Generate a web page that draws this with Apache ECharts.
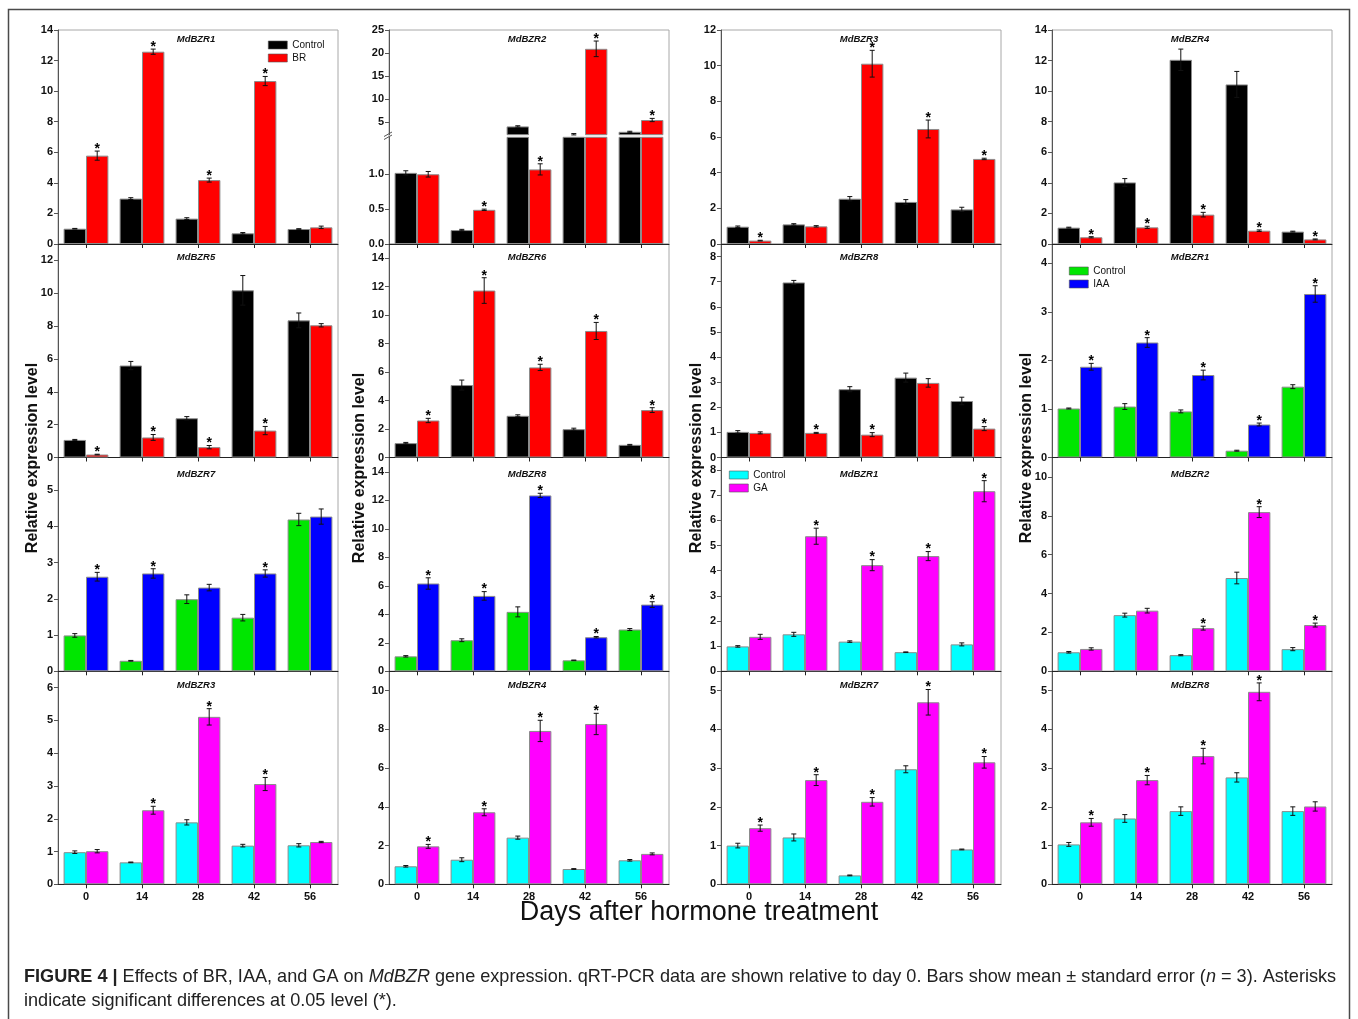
<!DOCTYPE html>
<html>
<head>
<meta charset="utf-8">
<script src="https://cdn.jsdelivr.net/npm/echarts@6/dist/echarts.min.js"></script>
<style>
html,body{margin:0;padding:0;background:#fff;}
#chart{width:1358px;height:1019px;}
</style>
</head>
<body>
<div id="chart"></div>
<script>
// ---------------- DATA ----------------
const days = ['0', '14', '28', '42', '56'];

// BR treatment
const BR_MdBZR1_control   = [1.00, 2.97, 1.66, 0.70, 0.98];
const BR_MdBZR1_controlSE = [0.02, 0.06, 0.06, 0.05, 0.02];
const BR_MdBZR1_treated   = [5.78, 12.58, 4.18, 10.66, 1.09];
const BR_MdBZR1_treatedSE = [0.30, 0.17, 0.13, 0.30, 0.08];
const BR_MdBZR1_sig       = [1, 1, 1, 1, 0];

const BR_MdBZR2_control   = [1.02, 0.20, 4.00, 2.30, 2.83];
const BR_MdBZR2_controlSE = [0.03, 0.01, 0.15, 0.15, 0.12];
const BR_MdBZR2_treated   = [1.00, 0.49, 1.07, 20.9, 5.40];
const BR_MdBZR2_treatedSE = [0.04, 0.01, 0.08, 1.70, 0.35];
const BR_MdBZR2_sig       = [0, 1, 1, 1, 1];
const BR_MdBZR2_upperTicks = [5, 10, 15, 20, 25];
const BR_MdBZR2_lowerTicks = [0, 0.5, 1.0];

const BR_MdBZR3_control   = [0.97, 1.10, 2.54, 2.36, 1.94];
const BR_MdBZR3_controlSE = [0.04, 0.04, 0.12, 0.13, 0.12];
const BR_MdBZR3_treated   = [0.19, 0.99, 10.11, 6.45, 4.77];
const BR_MdBZR3_treatedSE = [0.02, 0.04, 0.75, 0.50, 0.04];
const BR_MdBZR3_sig       = [1, 0, 1, 1, 1];

const BR_MdBZR4_control   = [1.07, 4.03, 12.05, 10.44, 0.81];
const BR_MdBZR4_controlSE = [0.03, 0.25, 0.70, 0.85, 0.03];
const BR_MdBZR4_treated   = [0.44, 1.09, 1.92, 0.87, 0.30];
const BR_MdBZR4_treatedSE = [0.04, 0.07, 0.15, 0.05, 0.03];
const BR_MdBZR4_sig       = [1, 1, 1, 1, 1];

const BR_MdBZR5_control   = [1.07, 5.60, 2.39, 10.18, 8.35];
const BR_MdBZR5_controlSE = [0.03, 0.25, 0.10, 0.90, 0.45];
const BR_MdBZR5_treated   = [0.18, 1.22, 0.63, 1.64, 8.05];
const BR_MdBZR5_treatedSE = [0.02, 0.18, 0.10, 0.25, 0.10];
const BR_MdBZR5_sig       = [1, 1, 1, 1, 0];

const BR_MdBZR6_control   = [1.01, 5.09, 2.93, 1.99, 0.89];
const BR_MdBZR6_controlSE = [0.05, 0.35, 0.07, 0.07, 0.03];
const BR_MdBZR6_treated   = [2.60, 11.73, 6.33, 8.89, 3.33];
const BR_MdBZR6_treatedSE = [0.15, 0.90, 0.22, 0.60, 0.17];
const BR_MdBZR6_sig       = [1, 1, 1, 1, 1];

const BR_MdBZR8_control   = [1.02, 6.97, 2.72, 3.18, 2.25];
const BR_MdBZR8_controlSE = [0.05, 0.08, 0.10, 0.18, 0.15];
const BR_MdBZR8_treated   = [0.98, 0.98, 0.91, 2.97, 1.15];
const BR_MdBZR8_treatedSE = [0.04, 0.02, 0.08, 0.17, 0.08];
const BR_MdBZR8_sig       = [0, 1, 1, 0, 1];

// IAA treatment
const IAA_MdBZR1_control   = [1.01, 1.05, 0.95, 0.14, 1.46];
const IAA_MdBZR1_controlSE = [0.01, 0.06, 0.03, 0.01, 0.04];
const IAA_MdBZR1_treated   = [1.87, 2.37, 1.70, 0.68, 3.37];
const IAA_MdBZR1_treatedSE = [0.07, 0.10, 0.10, 0.03, 0.17];
const IAA_MdBZR1_sig       = [1, 1, 1, 1, 1];

const IAA_MdBZR7_control   = [0.99, 0.29, 1.99, 1.48, 4.19];
const IAA_MdBZR7_controlSE = [0.05, 0.01, 0.12, 0.09, 0.17];
const IAA_MdBZR7_treated   = [2.61, 2.70, 2.31, 2.70, 4.27];
const IAA_MdBZR7_treatedSE = [0.12, 0.13, 0.09, 0.10, 0.21];
const IAA_MdBZR7_sig       = [1, 1, 0, 1, 0];

const IAA_MdBZR8_control   = [1.05, 2.18, 4.17, 0.77, 2.93];
const IAA_MdBZR8_controlSE = [0.05, 0.10, 0.35, 0.02, 0.07];
const IAA_MdBZR8_treated   = [6.16, 5.29, 12.34, 2.39, 4.68];
const IAA_MdBZR8_treatedSE = [0.40, 0.30, 0.15, 0.05, 0.20];
const IAA_MdBZR8_sig       = [1, 1, 1, 1, 1];

// GA treatment
const GA_MdBZR1_control   = [0.99, 1.47, 1.18, 0.76, 1.07];
const GA_MdBZR1_controlSE = [0.03, 0.08, 0.03, 0.01, 0.06];
const GA_MdBZR1_treated   = [1.37, 5.37, 4.22, 4.58, 7.16];
const GA_MdBZR1_treatedSE = [0.10, 0.32, 0.22, 0.18, 0.42];
const GA_MdBZR1_sig       = [0, 1, 1, 1, 1];

const GA_MdBZR2_control   = [0.98, 2.89, 0.83, 4.80, 1.14];
const GA_MdBZR2_controlSE = [0.04, 0.10, 0.03, 0.30, 0.08];
const GA_MdBZR2_treated   = [1.15, 3.12, 2.22, 8.19, 2.38];
const GA_MdBZR2_treatedSE = [0.06, 0.12, 0.10, 0.28, 0.10];
const GA_MdBZR2_sig       = [0, 0, 1, 1, 1];

const GA_MdBZR3_control   = [0.98, 0.67, 1.89, 1.18, 1.19];
const GA_MdBZR3_controlSE = [0.04, 0.01, 0.08, 0.04, 0.05];
const GA_MdBZR3_treated   = [1.01, 2.26, 5.11, 3.06, 1.29];
const GA_MdBZR3_treatedSE = [0.05, 0.12, 0.25, 0.20, 0.02];
const GA_MdBZR3_sig       = [0, 1, 1, 1, 0];

const GA_MdBZR4_control   = [0.93, 1.27, 2.41, 0.79, 1.24];
const GA_MdBZR4_controlSE = [0.04, 0.10, 0.08, 0.02, 0.04];
const GA_MdBZR4_treated   = [1.96, 3.72, 7.92, 8.28, 1.57];
const GA_MdBZR4_treatedSE = [0.10, 0.18, 0.55, 0.55, 0.05];
const GA_MdBZR4_sig       = [1, 1, 1, 1, 0];

const GA_MdBZR7_control   = [1.00, 1.21, 0.23, 2.97, 0.90];
const GA_MdBZR7_controlSE = [0.06, 0.09, 0.01, 0.09, 0.01];
const GA_MdBZR7_treated   = [1.45, 2.69, 2.13, 4.70, 3.15];
const GA_MdBZR7_treatedSE = [0.08, 0.14, 0.11, 0.33, 0.15];
const GA_MdBZR7_sig       = [1, 1, 1, 1, 1];

const GA_MdBZR8_control   = [1.03, 1.70, 1.89, 2.76, 1.89];
const GA_MdBZR8_controlSE = [0.05, 0.10, 0.11, 0.12, 0.11];
const GA_MdBZR8_treated   = [1.60, 2.69, 3.31, 4.97, 2.01];
const GA_MdBZR8_treatedSE = [0.10, 0.12, 0.20, 0.23, 0.12];
const GA_MdBZR8_sig       = [1, 1, 1, 1, 0];

// ---------------- LAYOUT / STYLE ----------------
const FONT = '"Liberation Sans", Arial, Helvetica, sans-serif';
const COLORS = { BR: ['#000000', '#FF0000'], IAA: ['#00E600', '#0000FF'], GA: ['#00FFFF', '#FF00FF'] };
const colLeft = [58, 389, 721, 1052];
const colW = 280;
const rowTop = [30, 244, 457.5, 671.3];
const rowBot = [244, 457.5, 671.3, 884.3];
const titleY = [39, 257, 474.5, 685];

function P(gene, hormone, row, col, yMax, yStep, c, cSE, t, tSE, sig, extra) {
  return Object.assign({ gene, hormone, row, col, yMax, yStep, c, cSE, t, tSE, sig }, extra || {});
}

const panels = [
  P('MdBZR1', 'BR', 0, 0, 14, 2, BR_MdBZR1_control, BR_MdBZR1_controlSE, BR_MdBZR1_treated, BR_MdBZR1_treatedSE, BR_MdBZR1_sig),
  P('MdBZR2', 'BR', 0, 1, 25, 5, BR_MdBZR2_control, BR_MdBZR2_controlSE, BR_MdBZR2_treated, BR_MdBZR2_treatedSE, BR_MdBZR2_sig,
    { broken: true, upperMin: 2.2, lowerMax: 1.53, gapTop: 134.7, gapBot: 137.3 }),
  P('MdBZR3', 'BR', 0, 2, 12, 2, BR_MdBZR3_control, BR_MdBZR3_controlSE, BR_MdBZR3_treated, BR_MdBZR3_treatedSE, BR_MdBZR3_sig),
  P('MdBZR4', 'BR', 0, 3, 14, 2, BR_MdBZR4_control, BR_MdBZR4_controlSE, BR_MdBZR4_treated, BR_MdBZR4_treatedSE, BR_MdBZR4_sig),
  P('MdBZR5', 'BR', 1, 0, 13, 2, BR_MdBZR5_control, BR_MdBZR5_controlSE, BR_MdBZR5_treated, BR_MdBZR5_treatedSE, BR_MdBZR5_sig),
  P('MdBZR6', 'BR', 1, 1, 15, 2, BR_MdBZR6_control, BR_MdBZR6_controlSE, BR_MdBZR6_treated, BR_MdBZR6_treatedSE, BR_MdBZR6_sig),
  P('MdBZR8', 'BR', 1, 2, 8.5, 1, BR_MdBZR8_control, BR_MdBZR8_controlSE, BR_MdBZR8_treated, BR_MdBZR8_treatedSE, BR_MdBZR8_sig),
  P('MdBZR1', 'IAA', 1, 3, 4.4, 1, IAA_MdBZR1_control, IAA_MdBZR1_controlSE, IAA_MdBZR1_treated, IAA_MdBZR1_treatedSE, IAA_MdBZR1_sig),
  P('MdBZR7', 'IAA', 2, 0, 5.9, 1, IAA_MdBZR7_control, IAA_MdBZR7_controlSE, IAA_MdBZR7_treated, IAA_MdBZR7_treatedSE, IAA_MdBZR7_sig),
  P('MdBZR8', 'IAA', 2, 1, 15, 2, IAA_MdBZR8_control, IAA_MdBZR8_controlSE, IAA_MdBZR8_treated, IAA_MdBZR8_treatedSE, IAA_MdBZR8_sig),
  P('MdBZR1', 'GA', 2, 2, 8.5, 1, GA_MdBZR1_control, GA_MdBZR1_controlSE, GA_MdBZR1_treated, GA_MdBZR1_treatedSE, GA_MdBZR1_sig),
  P('MdBZR2', 'GA', 2, 3, 11, 2, GA_MdBZR2_control, GA_MdBZR2_controlSE, GA_MdBZR2_treated, GA_MdBZR2_treatedSE, GA_MdBZR2_sig),
  P('MdBZR3', 'GA', 3, 0, 6.5, 1, GA_MdBZR3_control, GA_MdBZR3_controlSE, GA_MdBZR3_treated, GA_MdBZR3_treatedSE, GA_MdBZR3_sig),
  P('MdBZR4', 'GA', 3, 1, 11, 2, GA_MdBZR4_control, GA_MdBZR4_controlSE, GA_MdBZR4_treated, GA_MdBZR4_treatedSE, GA_MdBZR4_sig),
  P('MdBZR7', 'GA', 3, 2, 5.5, 1, GA_MdBZR7_control, GA_MdBZR7_controlSE, GA_MdBZR7_treated, GA_MdBZR7_treatedSE, GA_MdBZR7_sig),
  P('MdBZR8', 'GA', 3, 3, 5.5, 1, GA_MdBZR8_control, GA_MdBZR8_controlSE, GA_MdBZR8_treated, GA_MdBZR8_treatedSE, GA_MdBZR8_sig)
];

// ---------------- BUILD ----------------
const grid = [], xAxis = [], yAxis = [], series = [], elements = [];

function ticksOf(max, step) {
  const a = [];
  for (let v = 0; v <= max + 1e-9; v += step) a.push(+v.toFixed(4));
  return a;
}

function addGrid(left, top, width, height, show) {
  grid.push({ left, top, width, height, show: !!show, borderColor: '#a8a8a8', borderWidth: 1, backgroundColor: 'transparent' });
  return grid.length - 1;
}

function addAxes(gi, o) {
  xAxis.push({
    type: 'category', gridIndex: gi, data: days, boundaryGap: true, show: o.show !== false,
    axisLine: { show: !!o.xLine, onZero: false, lineStyle: { color: '#222', width: 1 } },
    axisTick: { show: !!o.xLine, alignWithLabel: true, length: 4, lineStyle: { color: '#222' } },
    axisLabel: { show: !!o.xLabel, fontSize: 11, fontWeight: 'bold', color: '#111', fontFamily: FONT, margin: 7 },
    splitLine: { show: false }
  });
  yAxis.push({
    type: 'value', gridIndex: gi, min: o.min, max: o.max, show: o.show !== false,
    axisLine: { show: true, lineStyle: { color: '#555', width: 1 } },
    axisTick: { show: true, length: 4, customValues: o.ticks, lineStyle: { color: '#555' } },
    axisLabel: { customValues: o.ticks, fontSize: 11, fontWeight: 'bold', color: '#111', fontFamily: FONT, margin: 5,
      formatter: o.fmt || (v => String(v)) },
    splitLine: { show: false }
  });
  return [xAxis.length - 1, yAxis.length - 1];
}

function makeErr(lo, hi) {
  return function (params, api) {
    const i = api.value(0);
    const band = api.size([1, 0])[0];
    const off = band * 0.2;
    const cx = api.coord([i, 0])[0];
    const kids = [];
    const items = [
      [api.value(1), api.value(2), -off, 0],
      [api.value(3), api.value(4), off, api.value(5)]
    ];
    items.forEach(function (it) {
      const m = it[0], se = it[1], x = cx + it[2], s = it[3];
      if (m < lo || m > hi) return;
      const yT = api.coord([i, m + se])[1];
      const yB = api.coord([i, m - se])[1];
      const cap = 2.5;
      kids.push({ type: 'line', shape: { x1: x, y1: yT, x2: x, y2: yB }, style: { stroke: '#111', lineWidth: 1 } });
      kids.push({ type: 'line', shape: { x1: x - cap, y1: yT, x2: x + cap, y2: yT }, style: { stroke: '#111', lineWidth: 1 } });
      kids.push({ type: 'line', shape: { x1: x - cap, y1: yB, x2: x + cap, y2: yB }, style: { stroke: '#111', lineWidth: 1 } });
      if (s) {
        kids.push({ type: 'text', x: x, y: yT - 2,
          style: { text: '*', font: 'bold 14px ' + FONT, fill: '#000', align: 'center', verticalAlign: 'middle' } });
      }
    });
    return { type: 'group', children: kids };
  };
}

function addSeries(p, xi, yi, lo, hi) {
  const col = COLORS[p.hormone];
  const common = { type: 'bar', xAxisIndex: xi, yAxisIndex: yi, barGap: '0%', barCategoryGap: '20%',
    emphasis: { disabled: true }, silent: true, clip: true };
  series.push(Object.assign({}, common, { name: 'Control', data: p.c,
    itemStyle: { color: col[0], borderColor: '#8c8c8c', borderWidth: 1 } }));
  series.push(Object.assign({}, common, { name: p.hormone, data: p.t,
    itemStyle: { color: col[1], borderColor: '#8c8c8c', borderWidth: 1 } }));
  series.push({
    type: 'custom', xAxisIndex: xi, yAxisIndex: yi, silent: true, z: 5, clip: false,
    encode: { x: 0, y: 1 },
    data: p.c.map((v, i) => [i, v, p.cSE[i], p.t[i], p.tSE[i], p.sig[i]]),
    renderItem: makeErr(lo, hi)
  });
}

panels.forEach(function (p) {
  const left = colLeft[p.col], top = rowTop[p.row], bot = rowBot[p.row];
  const isBottom = p.row === 3;
  if (!p.broken) {
    const gi = addGrid(left, top, colW, bot - top, true);
    const ax = addAxes(gi, { min: 0, max: p.yMax, ticks: ticksOf(p.yMax, p.yStep), xLine: true, xLabel: isBottom });
    addSeries(p, ax[0], ax[1], -Infinity, Infinity);
  } else {
    // frame
    const gf = addGrid(left, top, colW, bot - top, true);
    addAxes(gf, { min: 0, max: 1, ticks: [], show: false });
    // upper segment
    const gu = addGrid(left, top, colW, p.gapTop - top, false);
    const au = addAxes(gu, { min: p.upperMin, max: p.yMax, ticks: BR_MdBZR2_upperTicks, xLine: false, xLabel: false });
    addSeries(p, au[0], au[1], p.upperMin, Infinity);
    // lower segment
    const gl = addGrid(left, p.gapBot, colW, bot - p.gapBot, false);
    const al = addAxes(gl, { min: 0, max: p.lowerMax, ticks: BR_MdBZR2_lowerTicks, xLine: true, xLabel: isBottom,
      fmt: v => v.toFixed(1) });
    addSeries(p, al[0], al[1], -Infinity, p.lowerMax);
    // axis break mark
    elements.push({ type: 'line', shape: { x1: left - 5, y1: 136.5, x2: left + 3, y2: 132 }, style: { stroke: '#555', lineWidth: 1 } });
    elements.push({ type: 'line', shape: { x1: left - 5, y1: 139.5, x2: left + 3, y2: 135 }, style: { stroke: '#555', lineWidth: 1 } });
  }
  elements.push({ type: 'text', x: left + colW / 2 - 2, y: titleY[p.row], z: 10,
    style: { text: p.gene, font: 'italic bold 9.5px ' + FONT, fill: '#111', align: 'center', verticalAlign: 'middle' } });
});

// Y axis names
const yNameX = [33, 360, 697, 1027];
const yNameY = [458, 468, 458, 448];
yNameX.forEach(function (x, k) {
  elements.push({ type: 'text', x: x, y: yNameY[k], rotation: Math.PI / 2,
    style: { text: 'Relative expression level', font: 'bold 16px ' + FONT, fill: '#111', align: 'center', verticalAlign: 'middle' } });
});

// X axis name
elements.push({ type: 'text', x: 699, y: 913,
  style: { text: 'Days after hormone treatment', font: '27px ' + FONT, fill: '#111', align: 'center', verticalAlign: 'middle' } });

// Outer frame
elements.push({ type: 'rect', shape: { x: 8.5, y: 9.5, width: 1341, height: 1030 }, style: { fill: 'none', stroke: '#4a4a4a', lineWidth: 1.5 } });

// Caption
const capSize = 18.1;
const capFont = capSize + 'px ' + FONT;
const capRich = {
  b: { font: 'bold ' + capSize + 'px ' + FONT, fill: '#222' },
  i: { font: 'italic ' + capSize + 'px ' + FONT, fill: '#222' },
  r: { font: capFont, fill: '#222' }
};
elements.push({ type: 'text', x: 24, y: 977,
  style: { text: '{b|FIGURE 4 |}{r| Effects of BR, IAA, and GA on }{i|MdBZR}{r| gene expression. qRT-PCR data are shown relative to day 0. Bars show mean ± standard error (}{i|n}{r| = 3). Asterisks}',
    font: capFont, fill: '#222', rich: capRich, align: 'left', verticalAlign: 'middle' } });
elements.push({ type: 'text', x: 24, y: 1001,
  style: { text: 'indicate significant differences at 0.05 level (*).', font: capFont, fill: '#222', align: 'left', verticalAlign: 'middle' } });

// Legends
function legendFor(h, left, top) {
  const col = COLORS[h];
  return {
    left: left, top: top, orient: 'vertical', padding: 0, itemWidth: 19, itemHeight: 8, itemGap: 1, icon: 'rect',
    selectedMode: false,
    textStyle: { fontSize: 10, fontFamily: FONT, color: '#111', lineHeight: 12 },
    data: [
      { name: 'Control', itemStyle: { color: col[0], borderColor: '#555', borderWidth: 0.6 } },
      { name: h, itemStyle: { color: col[1], borderColor: '#555', borderWidth: 0.6 } }
    ]
  };
}

const option = {
  animation: false,
  backgroundColor: '#ffffff',
  textStyle: { fontFamily: FONT },
  grid: grid,
  xAxis: xAxis,
  yAxis: yAxis,
  legend: [legendFor('BR', 268, 39), legendFor('IAA', 1069, 265), legendFor('GA', 729, 469)],
  series: series,
  graphic: { elements: elements }
};

const chart = echarts.init(document.getElementById('chart'), null, { renderer: 'canvas' });
chart.setOption(option);
</script>
</body>
</html>
